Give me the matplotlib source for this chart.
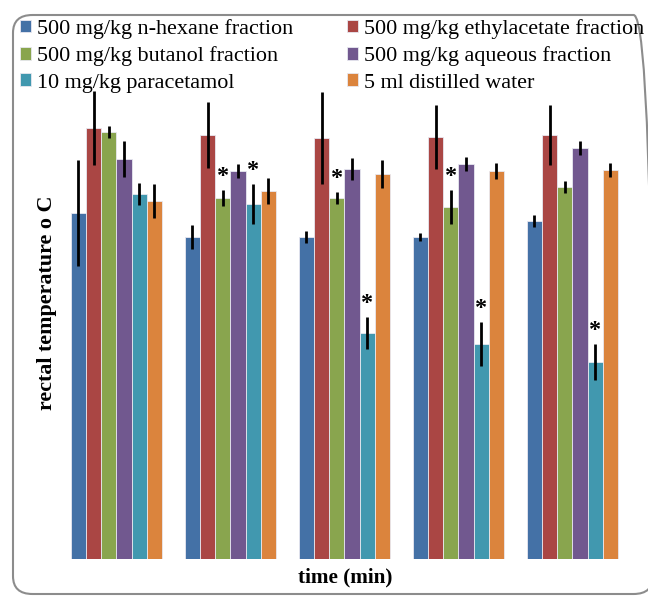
import numpy as np
import matplotlib.pyplot as plt
from matplotlib.patches import FancyBboxPatch

plt.rcParams['font.family'] = ['Liberation Serif', 'DejaVu Serif']

# data (no axis scale shown on the original; values are rectal temperature, deg C)
groups = ["t1", "t2", "t3", "t4", "t5"]
series = [
    "500 mg/kg n-hexane fraction",
    "500 mg/kg ethylacetate fraction",
    "500 mg/kg butanol fraction",
    "500 mg/kg aqueous fraction",
    "10 mg/kg paracetamol",
    "5 ml distilled water",
]
hexane = [38.46, 38.22, 38.22, 38.22, 38.38]
ethylacetate = [39.31, 39.24, 39.21, 39.22, 39.24]
butanol = [39.27, 38.61, 38.61, 38.52, 38.72]
aqueous = [39.00, 38.88, 38.90, 38.95, 39.11]
paracetamol = [38.65, 38.55, 37.26, 37.15, 36.97]
water = [38.58, 38.68, 38.85, 38.88, 38.89]

hexane_err = [0.53, 0.12, 0.06, 0.04, 0.06]
ethylacetate_err = [0.37, 0.33, 0.46, 0.32, 0.30]
butanol_err = [0.06, 0.08, 0.06, 0.17, 0.06]
aqueous_err = [0.18, 0.07, 0.11, 0.07, 0.07]
paracetamol_err = [0.11, 0.20, 0.16, 0.22, 0.18]
water_err = [0.17, 0.13, 0.14, 0.08, 0.07]

# significance markers (series index, group index)
stars = [(2, 1), (4, 1), (2, 2), (4, 2), (2, 3), (4, 3), (4, 4)]

colors = ['#4471A6', '#AA4644', '#89A54E', '#71588F', '#4198AF', '#DB843D']

values = [hexane, ethylacetate, butanol, aqueous, paracetamol, water]
errors = [hexane_err, ethylacetate_err, butanol_err, aqueous_err,
          paracetamol_err, water_err]

fig = plt.figure(figsize=(6.48, 5.96), dpi=100)
ax = fig.add_axes([0.0918, 0.0621, 0.8796, 0.8037])

x = np.arange(len(groups))
width = 0.8 / len(series)
bars = []
for i, (vals, errs) in enumerate(zip(values, errors)):
    pos = x - 0.4 + width * (i + 0.5)
    b = ax.bar(pos, np.array(vals) - 35, width, bottom=35, color=colors[i],
               edgecolor='#e8e8f0', linewidth=0.6, label=series[i])
    bars.append(b)
    ax.errorbar(pos, vals, yerr=errs, fmt='none', ecolor='black',
                elinewidth=2.0, capsize=0, clip_on=False)

for s, g in stars:
    pos = x[g] - 0.4 + width * (s + 0.5)
    top = values[s][g] + errors[s][g]
    ax.annotate("*", (pos, top), xytext=(0, 2), textcoords='offset points',
                ha='center', va='bottom', fontsize=17.5, fontweight='bold')

ax.set_xlim(-0.5, len(groups) - 0.5)
ax.set_ylim(35, 39.79)
ax.set_xticks([])
ax.set_yticks([])
for sp in ax.spines.values():
    sp.set_visible(False)

fig.text(0.532, 0.031, "time (min)", ha='center', va='center',
         fontsize=15.3, fontweight='bold')
fig.text(0.072, 0.492, "rectal temperature o C", ha='center', va='center',
         rotation=90, fontsize=15.8, fontweight='bold')

# legend fills row by row in the original
order = [0, 2, 4, 1, 3, 5]
fig.legend([bars[i] for i in order], [series[i] for i in order],
           loc='upper left', bbox_to_anchor=(0.031, 0.968), ncol=2,
           frameon=False, fontsize=15.9, handlelength=0.5, handleheight=0.5,
           handletextpad=0.28, columnspacing=2.4, labelspacing=0.33,
           borderpad=0, borderaxespad=0)

border = FancyBboxPatch((13 / 648, 2 / 596), 640 / 648, 579 / 596,
                        boxstyle="round,pad=0,rounding_size=0.03",
                        transform=fig.transFigure, fill=False,
                        edgecolor='#8c8c8c', linewidth=1.5)
fig.patches.append(border)

fig.savefig("out.png", dpi=100)
